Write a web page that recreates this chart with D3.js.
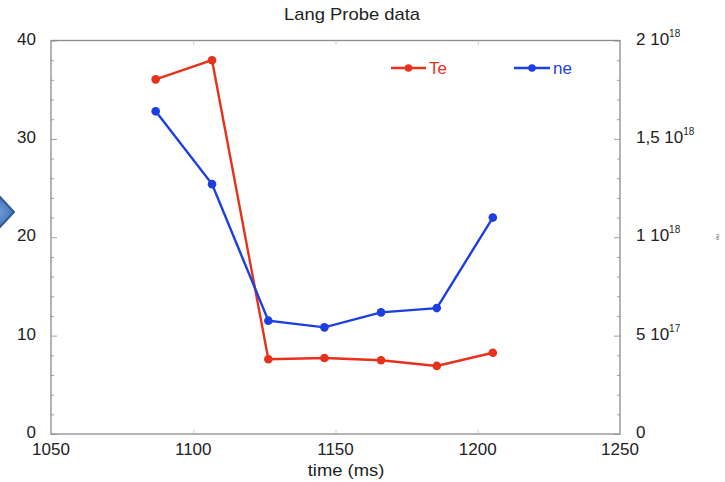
<!DOCTYPE html>
<html>
<head>
<meta charset="utf-8">
<script src="https://cdn.jsdelivr.net/npm/d3@7"></script>
<style>
  html, body { margin: 0; padding: 0; background: #fff; }
  svg { display: block; font-family: "Liberation Sans", Arial, Helvetica, sans-serif; }
</style>
</head>
<body>
<svg id="chart" width="725" height="482"></svg>
<script>
// ---- data ----
const time = [1086.8, 1106.6, 1126.4, 1146.1, 1166.0, 1185.6, 1205.3];
const Te   = [36.05, 38.0, 7.6, 7.72, 7.5, 6.92, 8.26];
const ne   = [1.64e18, 1.27e18, 5.76e17, 5.42e17, 6.18e17, 6.4e17, 1.10e18];
const xTicks = [1050, 1100, 1150, 1200, 1250];
const xTickLabels = ["1050", "1100", "1150", "1200", "1250"];
const yLeftTicks = [0, 10, 20, 30, 40];
const yRightTicks = [0, 5e17, 1e18, 1.5e18, 2e18];
const yRightLabels = [["0", ""], ["5 10", "17"], ["1 10", "18"], ["1,5 10", "18"], ["2 10", "18"]];
const seriesNames = ["Te", "ne"];
const colors = { Te: "#e8311c", ne: "#1b3fe0" };

const svg = d3.select("#chart");
const L = 51, R = 620, T = 40.5, B = 434;
const x = d3.scaleLinear().domain([1050, 1250]).range([L, R]);
const yL = d3.scaleLinear().domain([0, 40]).range([B, T]);
const yR = d3.scaleLinear().domain([0, 2e18]).range([B, T]);
const axisColor = "#8c8c8c";

// decorative diamond on left edge
const grad = svg.append("defs").append("radialGradient").attr("id", "dg");
grad.append("stop").attr("offset", "0%").attr("stop-color", "#6f9ad6");
grad.append("stop").attr("offset", "100%").attr("stop-color", "#4274b8");
svg.append("polygon")
  .attr("points", "-14,212 0,197 14,212 0,227")
  .attr("fill", "url(#dg)").attr("stroke", "#2c5a98").attr("stroke-width", 2);

// frame
svg.append("rect").attr("x", L).attr("y", T).attr("width", R - L).attr("height", B - T)
  .attr("fill", "none").attr("stroke", axisColor).attr("stroke-width", 1.3);

// left axis ticks (inward)
const gL = svg.append("g").attr("transform", `translate(${L},0)`);
gL.call(d3.axisRight(yL).tickValues(d3.range(0, 41, 2)).tickSize(3).tickFormat(""));
gL.selectAll(".tick line").attr("x2", d => d % 10 === 0 ? 6 : 3);
gL.select(".domain").remove();
gL.selectAll("line").attr("stroke", axisColor).attr("stroke-width", 0.8);
svg.append("g").selectAll("text").data(yLeftTicks).join("text")
  .attr("x", 36).attr("y", d => yL(d) + 4)
  .attr("text-anchor", "end").attr("font-size", 17).attr("fill", "#222")
  .text(d => d);

// right axis ticks (inward)
const gR = svg.append("g").attr("transform", `translate(${R},0)`);
gR.call(d3.axisLeft(yR).tickValues(d3.range(0, 21, 1).map(v => v * 1e17)).tickSize(3).tickFormat(""));
gR.selectAll(".tick line").attr("x2", (d, i) => i % 5 === 0 ? -6 : -3);
gR.select(".domain").remove();
gR.selectAll("line").attr("stroke", axisColor).attr("stroke-width", 0.8);
const rl = svg.append("g").selectAll("text").data(yRightTicks).join("text")
  .attr("x", 636).attr("y", d => yR(d) + 4)
  .attr("font-size", 17).attr("fill", "#222");
rl.append("tspan").text((d, i) => yRightLabels[i][0]);
rl.append("tspan").attr("dy", -8).attr("font-size", 10).text((d, i) => yRightLabels[i][1]);

// x axis ticks (inward, bottom and top)
const gB = svg.append("g").attr("transform", `translate(0,${B})`);
gB.call(d3.axisTop(x).tickValues(xTicks.slice(1, -1)).tickSize(4).tickFormat(""));
gB.select(".domain").remove();
gB.selectAll("line").attr("stroke", "#bbb").attr("stroke-width", 0.8);
const gT = svg.append("g").attr("transform", `translate(0,${T})`);
gT.call(d3.axisBottom(x).tickValues(xTicks.slice(1, -1)).tickSize(4).tickFormat(""));
gT.select(".domain").remove();
gT.selectAll("line").attr("stroke", "#bbb").attr("stroke-width", 0.8);
svg.append("g").selectAll("text").data(xTicks).join("text")
  .attr("x", d => x(d)).attr("y", 455)
  .attr("text-anchor", "middle").attr("font-size", 17).attr("fill", "#222")
  .text((d, i) => xTickLabels[i]);

// axis title + chart title (slightly stretched horizontally like the source)
svg.append("text").attr("transform", "translate(346,476) scale(1.15,1)").attr("text-anchor", "middle")
  .attr("font-size", 16).attr("fill", "#222").text("time (ms)");
svg.append("text").attr("transform", "translate(352,20) scale(1.15,1)").attr("text-anchor", "middle")
  .attr("font-size", 16).attr("fill", "#222").text("Lang Probe data");

// tiny rotated label on far right
svg.append("text").attr("transform", "translate(716,237) rotate(90)")
  .attr("text-anchor", "middle").attr("font-size", 6).attr("fill", "#666").text("ne");

// series
const teData = time.map((t, i) => [t, Te[i]]);
const neData = time.map((t, i) => [t, ne[i]]);
const lineL = d3.line().x(d => x(d[0])).y(d => yL(d[1]));
const lineR = d3.line().x(d => x(d[0])).y(d => yR(d[1]));

svg.append("path").datum(teData).attr("d", lineL).attr("fill", "none")
  .attr("stroke", colors.Te).attr("stroke-width", 2.4);
svg.append("g").selectAll("circle").data(teData).join("circle")
  .attr("cx", d => x(d[0])).attr("cy", d => yL(d[1])).attr("r", 4.3).attr("fill", colors.Te);

svg.append("path").datum(neData).attr("d", lineR).attr("fill", "none")
  .attr("stroke", colors.ne).attr("stroke-width", 2.4);
svg.append("g").selectAll("circle").data(neData).join("circle")
  .attr("cx", d => x(d[0])).attr("cy", d => yR(d[1])).attr("r", 4.3).attr("fill", colors.ne);

// legend
const legendPos = [{ x0: 391, x1: 426, y: 68 }, { x0: 514, x1: 550, y: 68 }];
seriesNames.forEach((name, i) => {
  const p = legendPos[i];
  const g = svg.append("g");
  g.append("line").attr("x1", p.x0).attr("x2", p.x1).attr("y1", p.y).attr("y2", p.y)
    .attr("stroke", colors[name]).attr("stroke-width", 2.4);
  g.append("circle").attr("cx", (p.x0 + p.x1) / 2).attr("cy", p.y).attr("r", 3.8).attr("fill", colors[name]);
  g.append("text").attr("x", p.x1 + 3).attr("y", p.y + 6).attr("font-size", 17)
    .attr("fill", colors[name]).text(name);
});
</script>
</body>
</html>
